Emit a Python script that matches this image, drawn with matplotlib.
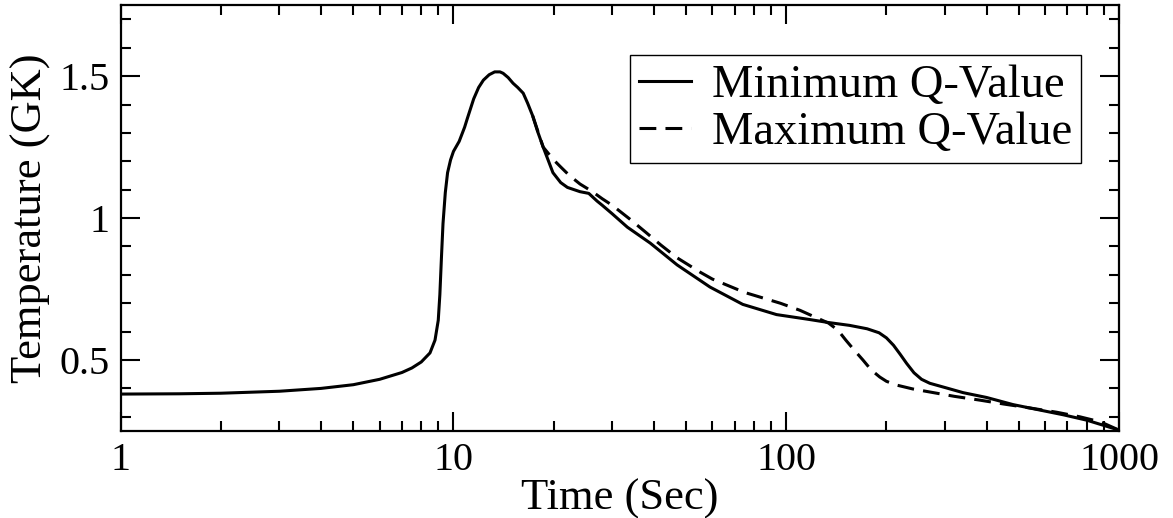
import matplotlib
matplotlib.use('Agg')
import matplotlib.pyplot as plt
from matplotlib.ticker import FixedLocator, LogLocator, NullFormatter, MultipleLocator

plt.rcParams['font.family'] = ['Liberation Serif', 'DejaVu Serif']

# temperature history, minimum Q-value run
t_min = [1, 1.5, 2, 3, 4, 5, 6, 7, 7.5, 8, 8.5, 8.8, 9.0, 9.1, 9.2, 9.3, 9.45,
         9.6, 9.8, 10, 10.4, 10.8, 11.0, 11.5, 11.9, 12.3, 12.8, 13.3, 13.8,
         14.1, 14.6, 15.1, 15.6, 16.2, 16.7, 17.3, 17.9, 18.6, 19.9, 21, 22,
         24, 25.5, 27, 28, 30, 33.3, 39, 47, 59, 74, 93.5, 117, 134, 155, 175,
         190, 200, 210, 220, 230, 242, 255, 270, 300, 340, 400, 480, 560, 680,
         800, 1000]
T_min = [0.38, 0.381, 0.383, 0.39, 0.40, 0.413, 0.432, 0.456, 0.472, 0.493,
         0.525, 0.57, 0.64, 0.73, 0.86, 0.98, 1.09, 1.16, 1.205, 1.235, 1.27,
         1.32, 1.35, 1.42, 1.46, 1.486, 1.505, 1.515, 1.515, 1.51, 1.495,
         1.475, 1.46, 1.44, 1.405, 1.36, 1.305, 1.25, 1.16, 1.125, 1.108,
         1.093, 1.087, 1.06, 1.045, 1.015, 0.968, 0.912, 0.835, 0.757, 0.696,
         0.66, 0.643, 0.632, 0.622, 0.61, 0.596, 0.578, 0.552, 0.52, 0.488,
         0.455, 0.432, 0.418, 0.403, 0.385, 0.368, 0.343, 0.327, 0.307, 0.288,
         0.253]

# maximum Q-value run (identical to the minimum run before ~17 s)
t_max = [17.3, 18.6, 20, 21, 22.3, 24, 26, 28, 30, 34, 38, 42, 47, 55, 60, 75,
         96, 110, 120, 134, 143, 151, 160, 170, 180, 191, 200, 214, 240, 271,
         320, 380, 450, 540, 650, 762, 880, 1000]
T_max = [1.36, 1.25, 1.205, 1.18, 1.15, 1.12, 1.095, 1.068, 1.045, 0.995,
         0.948, 0.905, 0.86, 0.81, 0.785, 0.738, 0.70, 0.675, 0.655, 0.63,
         0.605, 0.57, 0.535, 0.50, 0.465, 0.44, 0.425, 0.412, 0.398, 0.387,
         0.372, 0.359, 0.345, 0.331, 0.316, 0.30, 0.282, 0.253]

x_ticks = [1, 10, 100, 1000]
x_ticklabels = ['1', '10', '100', '1000']
y_ticks = [0.5, 1.0, 1.5]
y_ticklabels = ['0.5', '1', '1.5']

fig = plt.figure(figsize=(11.73, 5.18), dpi=100)
ax = fig.add_axes([0.1029, 0.168, 0.8511, 0.822])

ax.plot(t_min, T_min, color='black', lw=2.2, label='Minimum Q-Value')
ax.plot(t_max, T_max, color='black', lw=2.2, dashes=(5.5, 3),
        label='Maximum Q-Value')

ax.set_xscale('log')
ax.set_xlim(1, 1000)
ax.set_ylim(0.25, 1.75)

ax.xaxis.set_major_locator(FixedLocator(x_ticks))
ax.set_xticklabels(x_ticklabels)
ax.xaxis.set_minor_locator(LogLocator(base=10, subs=range(2, 10)))
ax.xaxis.set_minor_formatter(NullFormatter())
ax.yaxis.set_major_locator(FixedLocator(y_ticks))
ax.set_yticklabels(y_ticklabels)
ax.yaxis.set_minor_locator(MultipleLocator(0.1))

ax.tick_params(which='both', direction='in', top=True, right=True,
               labelsize=29, width=1.5, pad=8)
ax.tick_params(which='major', length=14)
ax.tick_params(which='minor', length=7)
for s in ax.spines.values():
    s.set_linewidth(1.6)

ax.set_xlabel('Time (Sec)', fontsize=32, labelpad=0)
ax.set_ylabel('Temperature (GK)', fontsize=32, labelpad=6)

leg = ax.legend(loc='upper right', bbox_to_anchor=(0.962, 0.883),
                fontsize=33.5, frameon=True, fancybox=False, framealpha=1,
                edgecolor='black', handlelength=1.1, handletextpad=0.45,
                labelspacing=0.1, borderpad=0.2, borderaxespad=0)
leg.get_frame().set_linewidth(1.0)

fig.savefig('out.png', dpi=100)
